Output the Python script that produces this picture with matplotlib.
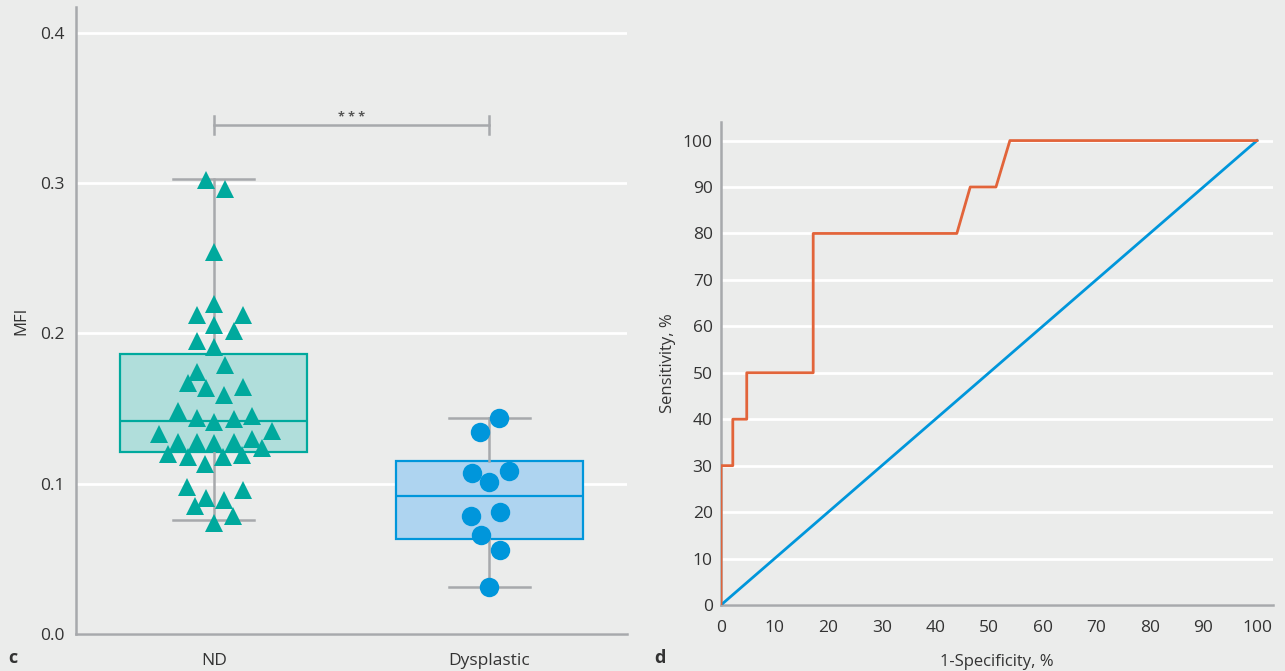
import matplotlib
matplotlib.use("Agg")
import matplotlib.pyplot as plt
import numpy as np

plt.rcParams['font.family'] = ['Open Sans', 'DejaVu Sans']

# ---------------- data ----------------
categories = ["ND", "Dysplastic"]

nd_x_offset = [-0.029, 0.040, 0.0, 0.0, -0.062, 0.105, 0.0, 0.073, -0.062, 0.0,
               0.040, -0.062, -0.095, -0.029, 0.105, 0.036, -0.131, -0.062, 0.0, 0.073,
               0.138, 0.211, -0.200, -0.131, -0.062, 0.0, 0.073, 0.138, 0.175, -0.167,
               -0.095, 0.033, 0.102, -0.033, -0.098, 0.105, -0.029, 0.036, -0.069, 0.069,
               0.0]
nd_values = [0.302, 0.296, 0.254, 0.2196, 0.2122, 0.2122, 0.2056, 0.2016, 0.195, 0.191,
             0.179, 0.1743, 0.167, 0.1637, 0.1643, 0.159, 0.1484, 0.1437, 0.141, 0.143,
             0.145, 0.135, 0.133, 0.1277, 0.1277, 0.127, 0.1277, 0.130, 0.124, 0.120,
             0.118, 0.118, 0.119, 0.113, 0.098, 0.096, 0.0905, 0.089, 0.085, 0.0785,
             0.074]

dys_x_offset = [0.036, -0.033, -0.062, 0.073, 0.0, 0.040, -0.065, -0.029, 0.040, 0.0]
dys_values = [0.1437, 0.1344, 0.1071, 0.1084, 0.1011, 0.0812, 0.0785, 0.0659, 0.0559, 0.0313]

# box statistics (whislo, q1, med, q3, whishi)
nd_box = [0.0758, 0.121, 0.1417, 0.1863, 0.3027]
dys_box = [0.0313, 0.0632, 0.0918, 0.1151, 0.1437]

left_yticks = [0.0, 0.1, 0.2, 0.3, 0.4]
significance = "* * *"

# ROC curve
roc_fpr = [0, 0, 2.2, 2.2, 4.8, 4.8, 17.2, 17.2, 44.0, 46.5, 51.3, 53.9, 100]
roc_tpr = [0, 30, 30, 40, 40, 50, 50, 80, 80, 90, 90, 100, 100]
ref_x = [0, 100]
ref_y = [0, 100]
roc_ticks = list(range(0, 101, 10))

# ---------------- style ----------------
bg = "#EBECEB"
grey = "#A7A9AC"
teal = "#00A99D"
teal_fill = "#B0DEDB"
blue = "#0096DB"
blue_fill = "#AED4F0"
orange = "#E2643A"
txt = "#333333"

fig = plt.figure(figsize=(12.85, 6.71), dpi=100, facecolor=bg)

# ---------------- panel c ----------------
ax1 = fig.add_axes([0.0591, 0.0551, 0.4289, 0.9345], facecolor=bg)
ax1.set_xlim(-0.5, 1.5)
ax1.set_ylim(0, 0.417)
for s in ["top", "right"]:
    ax1.spines[s].set_visible(False)
for s in ["left", "bottom"]:
    ax1.spines[s].set_color(grey)
    ax1.spines[s].set_linewidth(1.8)
ax1.set_yticks(left_yticks)
ax1.set_yticklabels([f"{v:.1f}" for v in left_yticks])
ax1.set_xticks([0, 1])
ax1.set_xticklabels(categories)
ax1.tick_params(length=0, labelsize=12.5, colors=txt, pad=8)
ax1.tick_params(axis='x', pad=14)
ax1.yaxis.grid(True, color="white", linewidth=2)
ax1.set_axisbelow(True)
ax1.set_ylabel("MFI", fontsize=12, color=txt, labelpad=8)

def stats(b, label):
    return dict(whislo=b[0], q1=b[1], med=b[2], q3=b[3], whishi=b[4], label=label, fliers=[])

for pos, b, fill, edge in [(0, nd_box, teal_fill, teal), (1, dys_box, blue_fill, blue)]:
    ax1.bxp([stats(b, categories[pos])], positions=[pos], widths=0.68, patch_artist=True,
            showfliers=False, capwidths=0.295,
            boxprops=dict(facecolor=fill, edgecolor=edge, linewidth=1.6),
            medianprops=dict(color=edge, linewidth=1.6),
            whiskerprops=dict(color=grey, linewidth=1.8),
            capprops=dict(color=grey, linewidth=1.8), zorder=2)

ax1.plot(np.array(nd_x_offset) + 0, nd_values, linestyle="none", marker="^",
         markersize=13.5, color=teal, markeredgewidth=0, zorder=3, clip_on=False)
ax1.plot(np.array(dys_x_offset) + 1, dys_values, linestyle="none", marker="o",
         markersize=14, color=blue, markeredgewidth=0, zorder=3, clip_on=False)

# significance bar
ybar = 0.3387
ax1.plot([0, 1], [ybar, ybar], color=grey, linewidth=1.8)
ax1.plot([0, 0], [ybar - 0.006, ybar + 0.006], color=grey, linewidth=1.8)
ax1.plot([1, 1], [ybar - 0.006, ybar + 0.006], color=grey, linewidth=1.8)
ax1.text(0.5, ybar + 0.0045, significance, ha="center", va="center", fontsize=9,
         color="#555555", fontweight="bold")

fig.text(13 / 1285, 1 - 658 / 671, "c", fontsize=13, fontweight="bold", color=txt,
         ha="center", va="center")

# ---------------- panel d ----------------
ax2 = fig.add_axes([0.5611, 0.0984, 0.4296, 0.7198], facecolor=bg)
ax2.set_xlim(0, 103)
ax2.set_ylim(0, 104)
for s in ["top", "right"]:
    ax2.spines[s].set_visible(False)
for s in ["left", "bottom"]:
    ax2.spines[s].set_color(grey)
    ax2.spines[s].set_linewidth(1.8)
ax2.set_xticks(roc_ticks)
ax2.set_yticks(roc_ticks)
ax2.tick_params(length=0, labelsize=12.5, colors=txt, pad=6)
ax2.tick_params(axis='x', pad=11)
ax2.yaxis.grid(True, color="white", linewidth=2)
ax2.set_axisbelow(True)
ax2.plot(ref_x, ref_y, color=blue, linewidth=2, zorder=3)
ax2.plot(roc_fpr, roc_tpr, color=orange, linewidth=2, zorder=4)
ax2.set_xlabel("1-Specificity, %", fontsize=12, color=txt, labelpad=13)
ax2.set_ylabel("Sensitivity, %", fontsize=12, color=txt, labelpad=5)

fig.text(660 / 1285, 1 - 658 / 671, "d", fontsize=13, fontweight="bold", color=txt,
         ha="center", va="center")

fig.savefig("out.png", dpi=100, facecolor=bg)
